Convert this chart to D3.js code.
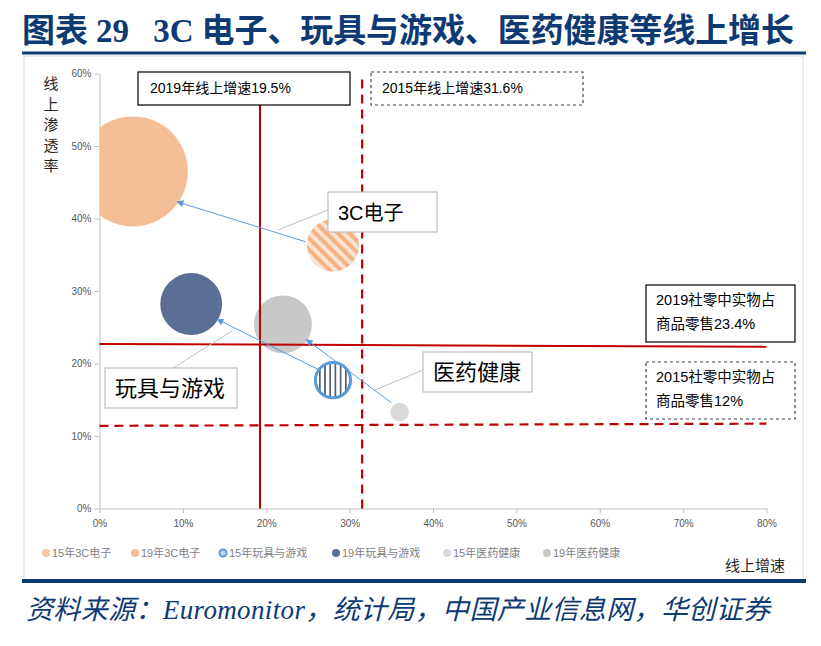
<!DOCTYPE html>
<html>
<head>
<meta charset="utf-8">
<script src="https://cdn.jsdelivr.net/npm/d3@7"></script>
<style>
  body { margin: 0; background: #fff; }
  svg { display: block; }
</style>
</head>
<body>
<div id="chart"></div>
<script>
// bubble data (x = 线上增速 %, y = 线上渗透率 %)
const seriesNames = ["15年3C电子", "19年3C电子", "15年玩具与游戏", "19年玩具与游戏", "15年医药健康", "19年医药健康"];
const onlineGrowth = [28.0, 4.0, 28.0, 11.0, 36.0, 22.0];
const penetration = [36.3, 46.5, 17.7, 28.2, 13.3, 25.4];
const bubbleSize = [6.8, 30.3, 3.1, 9.6, 0.85, 8.4];

// arrows 15 -> 19, in data units [x1, y1, x2, y2]
const arrows = [
    [24.7, 36.8, 9.3, 42.3],
    [26.2, 19.2, 14.1, 26.1],
    [35.0, 14.6, 24.8, 23.3]
];

// reference lines [x1, y1, x2, y2]
const refLines = [
    {pts: [19.25, 0, 19.25, 60], dashed: false},
    {pts: [31.5, 0, 31.5, 60], dashed: true},
    {pts: [0, 22.7, 80, 22.3], dashed: false},
    {pts: [0, 11.4, 80, 11.7], dashed: true}
];

const xTicks = [0, 10, 20, 30, 40, 50, 60, 70, 80];
const yTicks = [0, 10, 20, 30, 40, 50, 60];

const W = 821, H = 646;
const plot = {left: 99.5, right: 766.5, top: 73.5, bottom: 508.5};

const svg = d3.select("#chart").append("svg")
    .attr("width", W)
    .attr("height", H);

const xScale = d3.scaleLinear().domain([0, 80]).range([plot.left, plot.right]);
const yScale = d3.scaleLinear().domain([0, 60]).range([plot.bottom, plot.top]);
const rScale = d3.scaleSqrt().domain([0, 30.3]).range([0, 55]);

const defs = svg.append("defs");

// diagonal hatch for 15年3C电子
const p1 = defs.append("pattern")
    .attr("id", "hatch3c")
    .attr("patternUnits", "userSpaceOnUse")
    .attr("width", 8).attr("height", 8)
    .attr("patternTransform", "rotate(-45)");
p1.append("rect").attr("width", 8).attr("height", 8).attr("fill", "#fbe3d1");
p1.append("rect").attr("width", 4).attr("height", 8).attr("fill", "#f4b183");

// vertical hatch for 15年玩具与游戏
const p2 = defs.append("pattern")
    .attr("id", "hatchToy")
    .attr("patternUnits", "userSpaceOnUse")
    .attr("width", 5.2).attr("height", 8);
p2.append("rect").attr("width", 5.2).attr("height", 8).attr("fill", "#fff");
p2.append("rect").attr("x", 1.8).attr("width", 1.6).attr("height", 8).attr("fill", "#44546a");

const smallHatch = defs.append("pattern")
    .attr("id", "hatchSmall")
    .attr("patternUnits", "userSpaceOnUse")
    .attr("width", 3).attr("height", 3)
    .attr("patternTransform", "rotate(-45)");
smallHatch.append("rect").attr("width", 3).attr("height", 3).attr("fill", "#fbe3d1");
smallHatch.append("rect").attr("width", 1.5).attr("height", 3).attr("fill", "#f4b183");

defs.append("clipPath").attr("id", "plotClip")
    .append("rect")
    .attr("x", plot.left).attr("y", plot.top - 10)
    .attr("width", plot.right - plot.left + 20)
    .attr("height", plot.bottom - plot.top + 10);

defs.append("marker")
    .attr("id", "arrowHead")
    .attr("viewBox", "0 0 10 10")
    .attr("refX", 9).attr("refY", 5)
    .attr("markerWidth", 9).attr("markerHeight", 7)
    .attr("markerUnits", "userSpaceOnUse")
    .attr("orient", "auto")
    .append("path")
    .attr("d", "M0,0L10,5L0,10Z")
    .attr("fill", "#5b9bd5");

const fills = ["url(#hatch3c)", "#f4be96", "url(#hatchToy)", "#5b6e96", "#d9d9d9", "#c8c8c8"];
const strokes = ["none", "none", "#5b9bd5", "none", "none", "none"];
const legendFills = ["url(#hatchSmall)", "#f4be96", "#c9d6ea", "#5b6e96", "#d9d9d9", "#c8c8c8"];

// title
svg.append("text")
    .attr("x", 22).attr("y", 42)
    .attr("textLength", 772)
    .attr("lengthAdjust", "spacing")
    .style("white-space", "pre")
    .style("font-family", "'Liberation Serif', 'Noto Sans CJK SC', serif")
    .style("font-weight", "bold")
    .style("font-size", "33px")
    .style("fill", "#0e3a74")
    .text("图表 29   3C 电子、玩具与游戏、医药健康等线上增长");

svg.append("line")
    .attr("x1", 22).attr("x2", 806).attr("y1", 53).attr("y2", 53)
    .attr("stroke", "#0e3a74").attr("stroke-width", 3);

// chart frame
svg.append("rect")
    .attr("x", 24).attr("y", 56).attr("width", 779).attr("height", 524)
    .attr("fill", "none").attr("stroke", "#d9d9d9").attr("stroke-width", 1);

svg.append("line")
    .attr("x1", 22).attr("x2", 806).attr("y1", 581).attr("y2", 581)
    .attr("stroke", "#0e3a74").attr("stroke-width", 4);

// footer
svg.append("text")
    .attr("x", 26).attr("y", 619)
    .attr("textLength", 744)
    .attr("lengthAdjust", "spacing")
    .style("font-family", "'Liberation Serif', 'Noto Sans CJK SC', serif")
    .style("font-style", "italic")
    .style("font-size", "27px")
    .style("fill", "#0e3a74")
    .text("资料来源：Euromonitor，统计局，中国产业信息网，华创证券");

// axes
const xAxis = d3.axisBottom(xScale).tickValues(xTicks).tickFormat(d => d + "%").tickSize(5).tickSizeOuter(0);
const yAxis = d3.axisLeft(yScale).tickValues(yTicks).tickFormat(d => d + "%").tickSize(5).tickSizeOuter(0);

const xg = svg.append("g")
    .attr("transform", `translate(0,${plot.bottom})`)
    .call(xAxis);
const yg = svg.append("g")
    .attr("transform", `translate(${plot.left},0)`)
    .call(yAxis);

[xg, yg].forEach(g => {
    g.select(".domain").attr("stroke", "#bfbfbf");
    g.selectAll(".tick line").attr("stroke", "#bfbfbf");
    g.selectAll(".tick text")
        .style("font-family", "'Liberation Sans', sans-serif")
        .style("font-size", "10px")
        .style("fill", "#595959");
});
xg.selectAll(".tick text").attr("dy", "1.05em");
yg.selectAll(".tick text").attr("x", -8);

// bubbles
const bubbles = seriesNames.map((n, i) => ({
    name: n, x: onlineGrowth[i], y: penetration[i], size: bubbleSize[i],
    fill: fills[i], stroke: strokes[i]
}));

svg.append("g")
    .attr("clip-path", "url(#plotClip)")
    .selectAll("circle")
    .data(bubbles)
    .enter()
    .append("circle")
    .attr("cx", d => xScale(d.x))
    .attr("cy", d => yScale(d.y))
    .attr("r", d => rScale(d.size))
    .attr("fill", d => d.fill)
    .attr("stroke", d => d.stroke)
    .attr("stroke-width", 3);

// reference lines
svg.append("g").selectAll("line")
    .data(refLines)
    .enter()
    .append("line")
    .attr("x1", d => xScale(d.pts[0]))
    .attr("y1", d => yScale(d.pts[1]))
    .attr("x2", d => xScale(d.pts[2]))
    .attr("y2", d => yScale(d.pts[3]))
    .attr("stroke", "#c00000")
    .attr("stroke-width", d => d.dashed ? 2.2 : 2)
    .attr("stroke-dasharray", d => d.dashed ? "9,6" : null);

// arrows
svg.append("g").selectAll("line")
    .data(arrows)
    .enter()
    .append("line")
    .attr("x1", d => xScale(d[0]))
    .attr("y1", d => yScale(d[1]))
    .attr("x2", d => xScale(d[2]))
    .attr("y2", d => yScale(d[3]))
    .attr("stroke", "#5b9bd5")
    .attr("stroke-width", 1)
    .attr("marker-end", "url(#arrowHead)");

// callout leader lines
const leaders = [[328, 210, 278, 230], [173, 368, 232, 331], [423, 370, 375, 390]];
svg.append("g").selectAll("line")
    .data(leaders)
    .enter()
    .append("line")
    .attr("x1", d => d[0]).attr("y1", d => d[1])
    .attr("x2", d => d[2]).attr("y2", d => d[3])
    .attr("stroke", "#bfbfbf").attr("stroke-width", 1);

// annotation boxes
const boxes = [
    {x: 138, y: 72, w: 212, h: 33, dash: false, stroke: "#000", lines: ["2019年线上增速19.5%"], size: 14, tx: 150, ty: 93},
    {x: 371, y: 72, w: 212, h: 33, dash: true, stroke: "#404040", lines: ["2015年线上增速31.6%"], size: 14, tx: 382, ty: 93},
    {x: 646, y: 285, w: 149, h: 57, dash: false, stroke: "#000", lines: ["2019社零中实物占", "商品零售23.4%"], size: 14.5, tx: 656, ty: 305},
    {x: 646, y: 362, w: 149, h: 57, dash: true, stroke: "#404040", lines: ["2015社零中实物占", "商品零售12%"], size: 14.5, tx: 656, ty: 382},
    {x: 328, y: 192, w: 109, h: 40, dash: false, stroke: "#bfbfbf", lines: ["3C电子"], size: 20, tx: 338, ty: 220},
    {x: 105, y: 368, w: 132, h: 40, dash: false, stroke: "#bfbfbf", lines: ["玩具与游戏"], size: 22, tx: 115, ty: 396},
    {x: 423, y: 352, w: 109, h: 40, dash: false, stroke: "#bfbfbf", lines: ["医药健康"], size: 22, tx: 433, ty: 380}
];

const bg = svg.append("g").selectAll("g")
    .data(boxes)
    .enter()
    .append("g");

bg.append("rect")
    .attr("x", d => d.x).attr("y", d => d.y)
    .attr("width", d => d.w).attr("height", d => d.h)
    .attr("fill", "#fff")
    .attr("stroke", d => d.stroke)
    .attr("stroke-width", 1.2)
    .attr("stroke-dasharray", d => d.dash ? "3,3" : null);

bg.each(function(d) {
    const t = d3.select(this).append("text")
        .style("font-family", "'Liberation Sans', 'Noto Sans CJK SC', sans-serif")
        .style("font-size", d.size + "px")
        .style("fill", "#000");
    d.lines.forEach((ln, i) => {
        t.append("tspan").attr("x", d.tx).attr("y", d.ty + i * 24).text(ln);
    });
});

// axis titles
svg.append("g").selectAll("text")
    .data("线上渗透率".split(""))
    .enter()
    .append("text")
    .attr("x", 51)
    .attr("y", (d, i) => 89 + i * 20.5)
    .attr("text-anchor", "middle")
    .style("font-family", "'Noto Sans CJK SC', sans-serif")
    .style("font-size", "15px")
    .style("fill", "#262626")
    .text(d => d);

svg.append("text")
    .attr("x", 725).attr("y", 571)
    .style("font-family", "'Noto Sans CJK SC', sans-serif")
    .style("font-size", "15px")
    .style("fill", "#262626")
    .text("线上增速");

// legend
const legendX = [46, 135, 223, 336, 447, 547];
const lg = svg.append("g").selectAll("g")
    .data(seriesNames)
    .enter()
    .append("g")
    .attr("transform", (d, i) => `translate(${legendX[i]},553)`);

lg.append("circle")
    .attr("r", (d, i) => i === 2 ? 3.5 : 4)
    .attr("fill", (d, i) => legendFills[i])
    .attr("stroke", (d, i) => i === 2 ? "#5b9bd5" : "none")
    .attr("stroke-width", 2);

lg.append("text")
    .attr("x", 6).attr("y", 4)
    .style("font-family", "'Liberation Sans', 'Noto Sans CJK SC', sans-serif")
    .style("font-size", "11px")
    .style("fill", "#7f7f7f")
    .text(d => d);
</script>
</body>
</html>
